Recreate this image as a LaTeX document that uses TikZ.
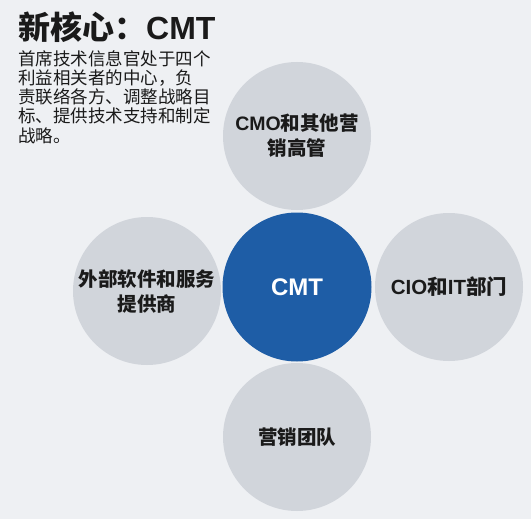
\documentclass[tikz,border=0pt]{standalone}
\usepackage{fontspec}
\setmainfont{Liberation Sans}
\newfontfamily\cjk{Noto Sans CJK SC}
\definecolor{bggray}{HTML}{EEF0F3}
\definecolor{bubblegray}{HTML}{D1D5DB}
\definecolor{coreblue}{HTML}{1E5DA6}
\definecolor{textdark}{HTML}{1A1A1A}
\begin{document}
\begin{tikzpicture}[x=1pt,y=-1pt,
  bubble/.style={circle, fill=bubblegray, minimum size=148pt, inner sep=0pt, align=center, text=textdark, font=\fontsize{19.5}{25}\selectfont\bfseries},
  core/.style={circle, fill=coreblue, minimum size=149pt, inner sep=0pt, text=white, font=\fontsize{24}{28}\selectfont\bfseries}]
\fill[bggray] (0,0) rectangle (531,519);
\useasboundingbox (0,0) rectangle (531,519);
\node[bubble] (top) at (297,136) {CMO{\cjk 和其他营}\\{\cjk 销高管}};
\node[bubble] (left) at (147,291) {{\cjk 外部软件和服务}\\{\cjk 提供商}};
\node[bubble, font=\fontsize{20.5}{25}\selectfont\bfseries] (right) at (449,287) {CIO{\cjk 和}IT{\cjk 部门}};
\node[bubble] (bottom) at (297,437) {{\cjk 营销团队}};
\node[core] (cmt) at (297,287) {CMT};
\node[anchor=base west, inner sep=0pt, text=textdark, font=\fontsize{32}{32}\selectfont\bfseries] (title) at (18,40) {{\cjk 新核心：}CMT};
\node[anchor=north west, inner sep=0pt, align=left, text=textdark, font=\cjk\fontsize{17.5}{19.3}\selectfont] (desc) at (18,50) {首席技术信息官处于四个\\利益相关者的中心，负\\责联络各方、调整战略目\\标、提供技术支持和制定\\战略。};
\end{tikzpicture}
\end{document}
